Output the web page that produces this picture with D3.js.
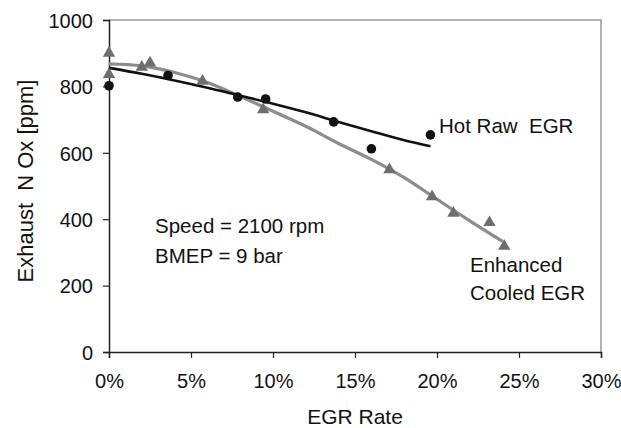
<!DOCTYPE html>
<html>
<head>
<meta charset="utf-8">
<script src="https://cdn.jsdelivr.net/npm/d3@7"></script>
<style>
  body { margin: 0; background: #fff; }
  svg { font-family: "Liberation Sans", Arial, Helvetica, sans-serif; }
</style>
</head>
<body>
<div id="chart"></div>
<script>
// measured points
var hotX = [0, 3.6, 7.85, 9.55, 13.7, 16.0, 19.6];
var hotY = [802, 833, 768, 762, 693, 612, 654];
var coolX = [0, 0, 2.0, 2.5, 5.7, 9.4, 17.1, 19.7, 21.0, 23.2, 24.1];
var coolY = [900, 836, 858, 871, 816, 730, 549, 468, 418, 390, 319];

// trend lines
var hotFitX = [0, 2, 4, 6, 8, 10, 12, 14, 16, 18, 19.6];
var hotFitY = [856, 838, 818, 796, 772, 748, 722, 693, 665, 638, 620];
var coolFitX = [0, 2, 4, 6, 8, 10, 12, 14, 16, 18, 20, 22, 24];
var coolFitY = [868, 862, 842, 812, 770, 725, 680, 628, 580, 525, 460, 395, 333];

var xTicks = [0, 5, 10, 15, 20, 25, 30];
var yTicks = [0, 200, 400, 600, 800, 1000];

var width = 621, height = 428;
var plotLeft = 109, plotRight = 601, plotTop = 20, plotBottom = 352;

var svg = d3.select('#chart').append('svg')
    .attr('width', width)
    .attr('height', height);

var x = d3.scaleLinear().domain([0, 30]).range([plotLeft, plotRight]);
var y = d3.scaleLinear().domain([0, 1000]).range([plotBottom, plotTop]);

// gray frame on top and right
svg.append('path')
    .attr('d', `M${plotLeft},${plotTop}H${plotRight}V${plotBottom}`)
    .style('fill', 'none')
    .style('stroke', '#9a9a9a')
    .style('stroke-width', 1.5);

// axes
var xAxis = svg.append('g')
    .attr('transform', `translate(0,${plotBottom})`)
    .call(d3.axisBottom(x).tickValues(xTicks).tickSize(6).tickFormat(d => d + '%'));
xAxis.selectAll('text').attr('y', 36).attr('dy', 0);

var yAxis = svg.append('g')
    .attr('transform', `translate(${plotLeft},0)`)
    .call(d3.axisLeft(y).tickValues(yTicks).tickSize(6).tickFormat(d3.format('d')));
yAxis.selectAll('text').attr('x', -16).attr('dy', '0.36em');

svg.selectAll('.domain').style('stroke', '#222').style('stroke-width', 1.5);
svg.selectAll('.tick line').style('stroke', '#222').style('stroke-width', 1.2);
svg.selectAll('.tick text').style('font-size', '20px').style('fill', '#111')
    .style('font-family', '"Liberation Sans", Arial, sans-serif');

// fitted curves
var line = d3.line().curve(d3.curveMonotoneX);

svg.append('path')
    .attr('d', line(coolFitX.map((d, i) => [x(d), y(coolFitY[i])])))
    .style('fill', 'none')
    .style('stroke', '#8c8c8c')
    .style('stroke-width', 3.2);

svg.append('path')
    .attr('d', line(hotFitX.map((d, i) => [x(d), y(hotFitY[i])])))
    .style('fill', 'none')
    .style('stroke', '#111')
    .style('stroke-width', 2.6);

// markers
svg.append('g').selectAll('path')
    .data(coolX.map((d, i) => [d, coolY[i]]))
    .join('path')
    .attr('transform', d => `translate(${x(d[0])},${y(d[1])})`)
    .attr('d', d3.symbol().type(d3.symbolTriangle).size(66))
    .style('fill', '#6e6e6e');

svg.append('g').selectAll('circle')
    .data(hotX.map((d, i) => [d, hotY[i]]))
    .join('circle')
    .attr('cx', d => x(d[0]))
    .attr('cy', d => y(d[1]))
    .attr('r', 4.8)
    .style('fill', '#111');

// titles
svg.append('text')
    .attr('x', (plotLeft + plotRight) / 2)
    .attr('y', 424)
    .style('text-anchor', 'middle')
    .style('font-size', '21px')
    .style('fill', '#111')
    .text('EGR Rate');

svg.append('text')
    .attr('transform', `translate(33,${(plotTop + plotBottom) / 2 - 5}) rotate(-90)`)
    .style('text-anchor', 'middle')
    .style('font-size', '22px')
    .style('fill', '#111')
    .style('white-space', 'pre')
    .text('Exhaust  N Ox [ppm]');

// annotations
var notes = [
    ['Speed = 2100 rpm', 155, 233],
    ['BMEP = 9 bar', 155, 263],
    ['Hot Raw  EGR', 439, 133],
    ['Enhanced', 470, 272],
    ['Cooled EGR', 470, 300]
];
svg.append('g').selectAll('text')
    .data(notes)
    .join('text')
    .attr('x', d => d[1])
    .attr('y', d => d[2])
    .style('font-size', '20.5px')
    .style('fill', '#111')
    .style('white-space', 'pre')
    .text(d => d[0]);
</script>
</body>
</html>
